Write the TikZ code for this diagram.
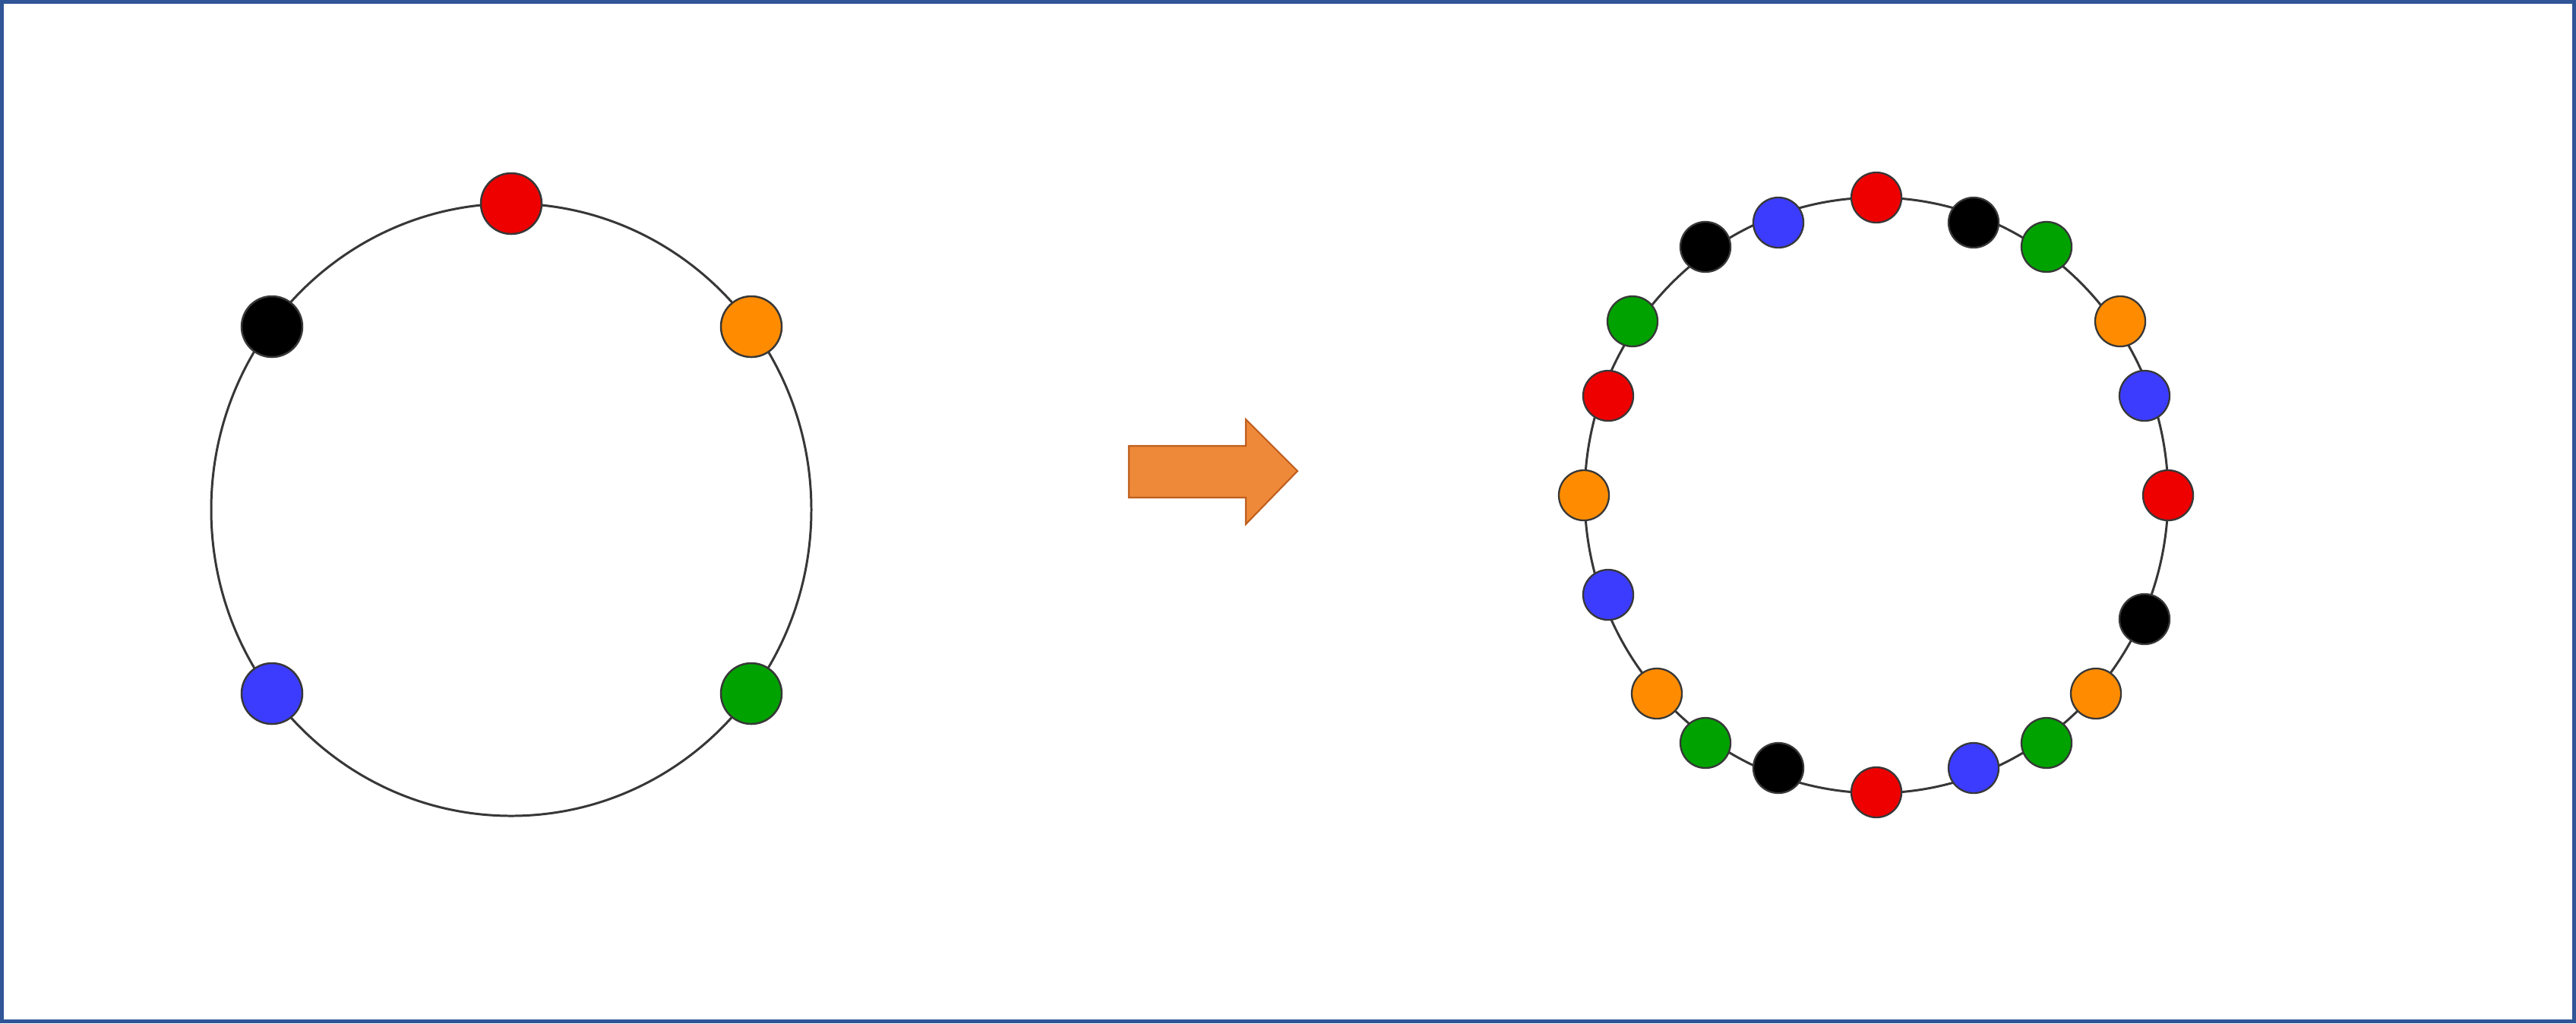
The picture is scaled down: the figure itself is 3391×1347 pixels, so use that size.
\documentclass[tikz,border=0pt]{standalone}
\usetikzlibrary{positioning}
\definecolor{frameblue}{RGB}{47,85,151}
\definecolor{dred}{RGB}{238,0,0}
\definecolor{dorange}{RGB}{255,140,0}
\definecolor{dgreen}{RGB}{0,162,0}
\definecolor{dblue}{RGB}{60,60,255}
\definecolor{arrowfill}{RGB}{238,137,58}
\definecolor{arrowline}{RGB}{190,95,30}
\definecolor{ringgray}{RGB}{55,55,55}
\begin{document}
\begin{tikzpicture}[x=0.01cm,y=-0.01cm,
  ring/.style={draw=ringgray,line width=0.85pt},
  bigdot/.style={circle,draw=ringgray,line width=0.7pt,inner sep=0pt,minimum size=0.8cm},
  smalldot/.style={circle,draw=ringgray,line width=0.65pt,inner sep=0pt,minimum size=0.66cm},
  R/.style={fill=dred},O/.style={fill=dorange},G/.style={fill=dgreen},B/.style={fill=dblue},K/.style={fill=black}]
\useasboundingbox (0,0) rectangle (3391,1347);
\fill[white] (0,0) rectangle (3391,1347);
\draw[frameblue,line width=1.45pt] (2.5,2.5) rectangle (3388.5,1344.5);
% left ring
\draw[ring] (673,671) ellipse[x radius=395,y radius=403];
\node[bigdot,R] (l1) at (673,268) {};
\node[bigdot,O] (l2) at (989,430) {};
\node[bigdot,G] (l3) at (989,913) {};
\node[bigdot,B] (l4) at (358,913) {};
\node[bigdot,K] (l5) at (358,430) {};
% arrow
\draw[arrowline,fill=arrowfill,line width=0.6pt,line join=miter]
  (1486,587) -- (1640,587) -- (1640,552) -- (1708,620) -- (1640,690) -- (1640,655) -- (1486,655) -- cycle;
% right ring
\draw[ring] (2470,652) ellipse[x radius=384,y radius=392];
\node[smalldot,R] (r1) at (2470,260) {};
\node[smalldot,K] (r2) at (2598,293) {};
\node[smalldot,G] (r3) at (2694,325) {};
\node[smalldot,O] (r4) at (2791,423) {};
\node[smalldot,B] (r5) at (2823,521) {};
\node[smalldot,R] (r6) at (2854,652) {};
\node[smalldot,K] (r7) at (2823,815) {};
\node[smalldot,O] (r8) at (2759,913) {};
\node[smalldot,G] (r9) at (2694,978) {};
\node[smalldot,B] (r10) at (2598,1011) {};
\node[smalldot,R] (r11) at (2470,1043) {};
\node[smalldot,K] (r12) at (2341,1011) {};
\node[smalldot,G] (r13) at (2245,978) {};
\node[smalldot,O] (r14) at (2181,913) {};
\node[smalldot,B] (r15) at (2117,783) {};
\node[smalldot,O] (r16) at (2085,652) {};
\node[smalldot,R] (r17) at (2117,521) {};
\node[smalldot,G] (r18) at (2149,423) {};
\node[smalldot,K] (r19) at (2245,325) {};
\node[smalldot,B] (r20) at (2341,293) {};
\end{tikzpicture}
\end{document}
